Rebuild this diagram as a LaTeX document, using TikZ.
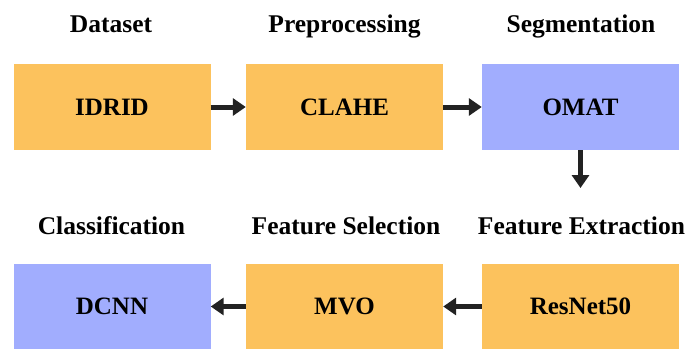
\documentclass[tikz,border=0pt]{standalone}
\usepackage{fontspec}
\setmainfont{Liberation Serif}
\usetikzlibrary{arrows.meta}
\definecolor{boxorange}{RGB}{252,194,93}
\definecolor{boxblue}{RGB}{161,173,254}
\definecolor{arrowdark}{RGB}{34,34,34}
\begin{document}
\begin{tikzpicture}[x=1pt,y=-1pt,
  box/.style={rectangle, inner sep=0pt, minimum width=197pt, minimum height=86pt,
    font=\fontsize{25}{30}\selectfont\bfseries},
  obox/.style={box, fill=boxorange},
  bbox/.style={box, fill=boxblue},
  title/.style={anchor=base, inner sep=0pt, font=\fontsize{25.5}{30}\selectfont\bfseries},
  flow/.style={draw=arrowdark, line width=5pt, -{Triangle[length=13pt,width=17pt]}}]
\useasboundingbox (0,0) rectangle (689,349);
% titles
\node[title] (t1) at (111,32) {Dataset};
\node[title] (t2) at (344.5,32) {Preprocessing};
\node[title] (t3) at (581,32) {Segmentation};
\node[title] (t4) at (111.5,234) {Classification};
\node[title] (t5) at (346,234) {Feature Selection};
\node[title] (t6) at (581.5,234) {Feature Extraction};
% boxes
\node[obox] (idrid) at (112,107) {IDRID};
\node[obox] (clahe) at (344.5,107) {CLAHE};
\node[bbox] (omat) at (580.5,107) {OMAT};
\node[bbox, minimum height=85pt] (dcnn) at (112,306.5) {DCNN};
\node[obox, minimum height=85pt] (mvo) at (344.5,306.5) {MVO};
\node[obox, minimum height=85pt] (resnet) at (580.5,306.5) {ResNet50};
\coordinate (down) at (580.5,188);
% arrows
\draw[flow] (idrid.east) -- (clahe.west);
\draw[flow] (clahe.east) -- (omat.west);
\draw[flow] (omat.south) -- (down);
\draw[flow] (resnet.west) -- (mvo.east);
\draw[flow] (mvo.west) -- (dcnn.east);
\end{tikzpicture}
\end{document}
